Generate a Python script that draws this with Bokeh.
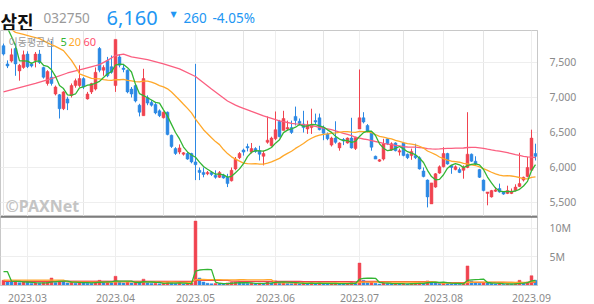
import numpy as np
import pandas as pd
from bokeh.plotting import figure
from bokeh.layouts import column
from bokeh.models import Range1d, FixedTicker, Label, Span, Grid
from bokeh.embed import file_html
from bokeh.resources import INLINE

# ---------------- data ----------------
opens = [7740, 7480, 7520, 7700, 7380, 7430, 7620, 7480, 7530, 7620,
         7430, 7200, 7290, 7050, 7040, 6840, 6980, 7030, 7170, 7170,
         7270, 6980, 7080, 7120, 7700, 7390, 7530, 7440, 7170, 7580,
         7420, 7390, 7120, 7170, 6890, 6740, 7000, 6930, 6900, 6810,
         6710, 6790, 6460, 6270, 6220, 6190, 6200, 6200, 6080, 5960,
         5930, 5910, 5930, 5890, 5860, 5890, 5860, 5810, 5980, 6140,
         6250, 6300, 6220, 6270, 6240, 6160, 6360, 6310, 6410, 6660,
         6530, 6550, 6570, 6730, 6660, 6620, 6550, 6570, 6670, 6710,
         6570, 6480, 6320, 6420, 6280, 6400, 6350, 6420, 6270, 6550,
         6710, 6600, 6500, 6160, 6090, 6120, 6410, 6250, 6350, 6220,
         6350, 6190, 6170, 6170, 6140, 5950, 5820, 5480, 5720, 5920,
         6010, 6200, 6030, 5970, 5970, 5960, 6000, 6190, 6090, 5970,
         5820, 5630, 5580, 5660, 5700, 5650, 5630, 5630, 5670, 5730,
         5820, 5870, 5960, 6200]
highs = [7770, 7530, 7700, 7770, 7480, 7670, 7660, 7500, 7650, 7680,
         7440, 7390, 7810, 7170, 7050, 7090, 7010, 7200, 7270, 7460,
         7290, 7080, 7210, 7430, 7720, 7460, 7580, 7600, 7830, 7620,
         7480, 7400, 7150, 7190, 6910, 7410, 7030, 6960, 6920, 6830,
         6800, 6800, 6470, 6290, 6330, 6220, 6220, 6210, 7480, 6000,
         6000, 5950, 5950, 5960, 5950, 5910, 5910, 6000, 6150, 6220,
         6270, 6340, 6350, 6290, 6310, 6240, 6730, 6440, 6800, 6680,
         6810, 6670, 6670, 6870, 6700, 6810, 6670, 6840, 6770, 6770,
         6600, 6500, 6440, 6660, 6360, 6420, 6430, 6710, 6440, 7400,
         6790, 6620, 6520, 6170, 6120, 6410, 6420, 6360, 6360, 6270,
         6360, 6200, 6270, 6340, 6160, 6000, 5830, 5780, 5920, 6030,
         6290, 6210, 6030, 6030, 6000, 6030, 6790, 6200, 6160, 5980,
         5830, 5650, 5680, 5720, 5770, 5660, 5740, 5700, 5760, 6210,
         5870, 6150, 6540, 6340]
lows = [7600, 7420, 7500, 7310, 7240, 7410, 7420, 7430, 7430, 7480,
        7270, 7170, 7170, 7030, 6700, 6820, 6820, 7000, 7140, 7150,
        7120, 6970, 7050, 7100, 7360, 7310, 7290, 7340, 7080, 7430,
        7360, 7060, 7000, 6930, 6730, 6740, 6890, 6870, 6760, 6720,
        6700, 6460, 6280, 6180, 6190, 6170, 6110, 6060, 5820, 5820,
        5860, 5890, 5880, 5840, 5850, 5840, 5720, 5800, 5960, 6120,
        6170, 6230, 6200, 6210, 6100, 6030, 6340, 6300, 6390, 6430,
        6530, 6530, 6480, 6600, 6600, 6500, 6480, 6480, 6620, 6530,
        6390, 6390, 6300, 6340, 6240, 6320, 6340, 6270, 6250, 6550,
        6630, 6500, 6240, 6120, 6080, 6100, 6320, 6240, 6230, 6170,
        6160, 6120, 6110, 6120, 5970, 5860, 5430, 5480, 5710, 5910,
        6000, 6040, 5910, 5960, 5920, 5840, 5990, 6080, 6030, 5850,
        5660, 5460, 5570, 5650, 5640, 5610, 5620, 5620, 5660, 5720,
        5800, 5860, 5960, 6100]
closes = [7620, 7450, 7610, 7480, 7460, 7610, 7440, 7450, 7620, 7500,
          7290, 7370, 7200, 7150, 6840, 7080, 6920, 7170, 7240, 7270,
          7150, 7050, 7200, 7360, 7390, 7430, 7310, 7360, 7830, 7460,
          7400, 7080, 7050, 6950, 6790, 7270, 6920, 6890, 6780, 6740,
          6790, 6470, 6300, 6200, 6280, 6210, 6120, 6080, 6040, 5930,
          5900, 5930, 5900, 5860, 5930, 5850, 5770, 5960, 6120, 6200,
          6220, 6280, 6270, 6230, 6190, 6200, 6390, 6420, 6540, 6440,
          6700, 6570, 6500, 6670, 6630, 6570, 6610, 6600, 6650, 6540,
          6490, 6410, 6420, 6360, 6350, 6380, 6420, 6280, 6430, 6710,
          6650, 6520, 6290, 6120, 6110, 6340, 6340, 6340, 6240, 6240,
          6170, 6140, 6230, 6140, 5980, 5870, 5580, 5780, 5910, 6010,
          6200, 6050, 6000, 6010, 5930, 6000, 6190, 6090, 6050, 5860,
          5670, 5650, 5670, 5680, 5650, 5620, 5670, 5660, 5720, 5770,
          5860, 6000, 6420, 6160]
# volume in thousand shares
volumes_k = [900, 700, 600, 800, 500, 600, 550, 350, 450, 400,
             500, 550, 1300, 500, 800, 700, 450, 600, 400, 650,
             450, 400, 380, 700, 900, 500, 600, 450, 1600, 700,
             450, 650, 420, 600, 480, 1100, 500, 350, 400, 300,
             350, 600, 500, 350, 380, 250, 300, 420, 11200, 1300,
             600, 380, 300, 350, 320, 280, 450, 550, 620, 480,
             400, 330, 420, 300, 380, 350, 700, 450, 800, 600,
             650, 380, 350, 520, 300, 420, 330, 480, 280, 450,
             380, 300, 330, 420, 260, 240, 300, 520, 500, 3900,
             900, 500, 600, 380, 250, 500, 350, 280, 330, 250,
             350, 260, 330, 380, 450, 420, 800, 650, 500, 380,
             550, 420, 300, 240, 220, 300, 3400, 800, 450, 400,
             500, 450, 380, 260, 300, 220, 280, 230, 300, 900,
             400, 600, 1700, 900]

# moving-average values where the window starts before the first candle
ma5_head_idx = [1, 2, 3]
ma5_head = [7990, 7870, 7740]
ma20_head_idx = [2, 3, 5, 7, 9, 11, 13, 15, 17, 18]
ma20_head = [7970, 7930, 7900, 7870, 7840, 7780, 7730, 7670, 7530, 7440]
ma60_head_idx = [0, 4, 8, 12, 16, 20, 24, 26, 28, 30, 32, 36, 40, 44, 48, 52, 56, 58]
ma60_head = [7080, 7140, 7200, 7270, 7350, 7410, 7470, 7530, 7600, 7620,
             7580, 7540, 7480, 7410, 7300, 7120, 6950, 6890]
vma5_head_idx = [0, 1, 2, 3]
vma5_head = [2400, 2400, 750, 720]
vma20_head_idx = [0, 15, 16, 18]
vma20_head = [950, 950, 620, 610]
vma60_head_idx = [0, 47, 48, 56, 57, 58]
vma60_head = [740, 700, 880, 880, 760, 750]

month_ticks = [6, 28, 48, 68, 89, 110, 132]
month_labels = ["2023.03", "2023.04", "2023.05", "2023.06", "2023.07", "2023.08", "2023.09"]
price_ticks = [5500, 6000, 6500, 7000, 7500]
price_labels = ["5,500", "6,000", "6,500", "7,000", "7,500"]
vol_ticks = [5000, 10000]
vol_labels = ["5M", "10M"]

name = "삼진"
code = "032750"
last_price = "6,160"
change = "260"
change_pct = "-4.05%"

# ---------------- styling ----------------
W = 594
RIGHT = 57
RED = "#f0434f"
BLUE = "#2b88e4"
C5 = "#33b533"
C20 = "#ffa82a"
C60 = "#fb5f80"
GRID = "#eeeeee"
AX = "#c8c8c8"
LBL = "#8a8a8a"
HBLUE = "#2196f3"
FONT = "Noto Sans"
KFONT = "Noto Sans CJK KR"

n = len(closes)
idx = np.arange(n)
o = np.array(opens, float)
h = np.array(highs, float)
l = np.array(lows, float)
c = np.array(closes, float)
v = np.array(volumes_k, float)
up = c >= o
cols = np.where(up, RED, BLUE)

def ma_line(values, window, head_idx, head_vals):
    s = pd.Series(values).rolling(window).mean()
    xs = list(head_idx) + list(range(window - 1, len(values)))
    ys = list(head_vals) + list(s.iloc[window - 1:])
    return xs, ys

x_rng = Range1d(-0.75, 133.5)

# ---------------- header ----------------
hf = figure(width=W, height=30, x_range=Range1d(0, W - RIGHT), y_range=Range1d(0, 30),
            output_backend="svg", toolbar_location=None,
            x_axis_location=None, y_axis_location=None,
            min_border_left=0, min_border_right=RIGHT, min_border_top=0, min_border_bottom=0,
            outline_line_color=None)
hf.xgrid.visible = False
hf.ygrid.visible = False

def htext(x, text, size, color, font=FONT, style="normal", y=12):
    hf.add_layout(Label(x=x, y=y, x_units="screen", y_units="screen", text=text,
                        text_font=font, text_font_size=size, text_color=color,
                        text_font_style=style, text_baseline="alphabetic", text_align="left"))

htext(0, name, "18px", "#111111", KFONT, "bold", y=10)
htext(43, code, "13.5px", "#9a9a9a", y=13)
htext(106, last_price, "20px", HBLUE, y=13)
htext(170, "▼", "8px", HBLUE, "DejaVu Sans", y=16)
htext(183, change, "13.5px", HBLUE, y=13)
htext(212, change_pct, "13.5px", HBLUE, y=13)

# ---------------- price panel ----------------
pf = figure(width=W, height=186, x_range=x_rng, y_range=Range1d(5300, 7957),
            output_backend="svg", toolbar_location=None,
            x_axis_location=None, y_axis_location="right",
            min_border_left=0, min_border_right=RIGHT, min_border_top=0, min_border_bottom=0,
            outline_line_color=AX, background_fill_color="white")
pf.add_layout(Grid(dimension=0, ticker=FixedTicker(ticks=month_ticks), grid_line_color=GRID))
pf.ygrid.ticker = FixedTicker(ticks=price_ticks)
pf.ygrid.grid_line_color = GRID
ya = pf.yaxis[0]
ya.ticker = FixedTicker(ticks=price_ticks)
ya.major_label_overrides = dict(zip(price_ticks, price_labels))
ya.major_tick_line_color = None
ya.minor_tick_line_color = None
ya.axis_line_color = AX
ya.major_label_standoff = 6
ya.major_label_text_font = FONT
ya.major_label_text_font_size = "10.5px"
ya.major_label_text_color = LBL

pf.segment(x0=idx, y0=l, x1=idx, y1=h, line_color=cols, line_width=1)
pf.vbar(x=idx, width=0.72, top=np.maximum(o, c), bottom=np.minimum(o, c),
        fill_color=cols, line_color=cols, line_width=0.5)

for vals, win, hi, hv, col in [(c, 60, ma60_head_idx, ma60_head, C60),
                               (c, 20, ma20_head_idx, ma20_head, C20),
                               (c, 5, ma5_head_idx, ma5_head, C5)]:
    xs, ys = ma_line(vals, win, hi, hv)
    pf.line(xs, ys, line_color=col, line_width=1.3)

def plabel(x, y, text, color, size, font=FONT, style="normal"):
    pf.add_layout(Label(x=x, y=y, x_units="screen", y_units="screen", text=text,
                        text_color=color, text_font_size=size, text_font=font,
                        text_font_style=style, text_baseline="middle"))
plabel(8, 175, "이동평균선", "#9a9a9a", "10px", KFONT)
plabel(60, 175, "5", C5, "11px")
plabel(68, 175, "20", C20, "11px")
plabel(83, 175, "60", "#ff4d6d", "11px")
plabel(5, 11, "©PAXNet", "#c4c4c4", "16px", FONT, "bold")

# ---------------- volume panel ----------------
vf = figure(width=W, height=88, x_range=x_rng, y_range=Range1d(0, 12000),
            output_backend="svg", toolbar_location=None, y_axis_location="right",
            min_border_left=0, min_border_right=RIGHT, min_border_top=0, min_border_bottom=14,
            outline_line_color=AX)
vf.xgrid.ticker = FixedTicker(ticks=month_ticks)
vf.xgrid.grid_line_color = GRID
vf.ygrid.ticker = FixedTicker(ticks=vol_ticks)
vf.ygrid.grid_line_color = GRID
va = vf.yaxis[0]
va.ticker = FixedTicker(ticks=vol_ticks)
va.major_label_overrides = dict(zip(vol_ticks, vol_labels))
xa = vf.xaxis[0]
xa.ticker = FixedTicker(ticks=month_ticks)
xa.major_label_overrides = dict(zip(month_ticks, month_labels))
for ax in (va, xa):
    ax.major_tick_line_color = None
    ax.minor_tick_line_color = None
    ax.axis_line_color = AX
    ax.major_label_text_font = FONT
    ax.major_label_text_font_size = "10.5px"
    ax.major_label_text_color = LBL
va.major_label_standoff = 6
xa.major_label_standoff = 2

vup = np.concatenate([[True], v[1:] >= v[:-1]])
vcols = np.where(vup, RED, BLUE)
vf.vbar(x=idx, width=0.72, top=v, bottom=0, fill_color=vcols, line_color=vcols, line_width=0.5)
for win, hi, hv, col in [(60, vma60_head_idx, vma60_head, RED),
                         (20, vma20_head_idx, vma20_head, C20),
                         (5, vma5_head_idx, vma5_head, C5)]:
    xs, ys = ma_line(v, win, hi, hv)
    vf.line(xs, ys, line_color=col, line_width=1.3)
vf.add_layout(Span(location=vf.y_range.end, dimension="width", line_color="#333333", line_width=2))

layout = column(hf, pf, vf, spacing=0)
open("out.html", "w").write(file_html(layout, INLINE))
